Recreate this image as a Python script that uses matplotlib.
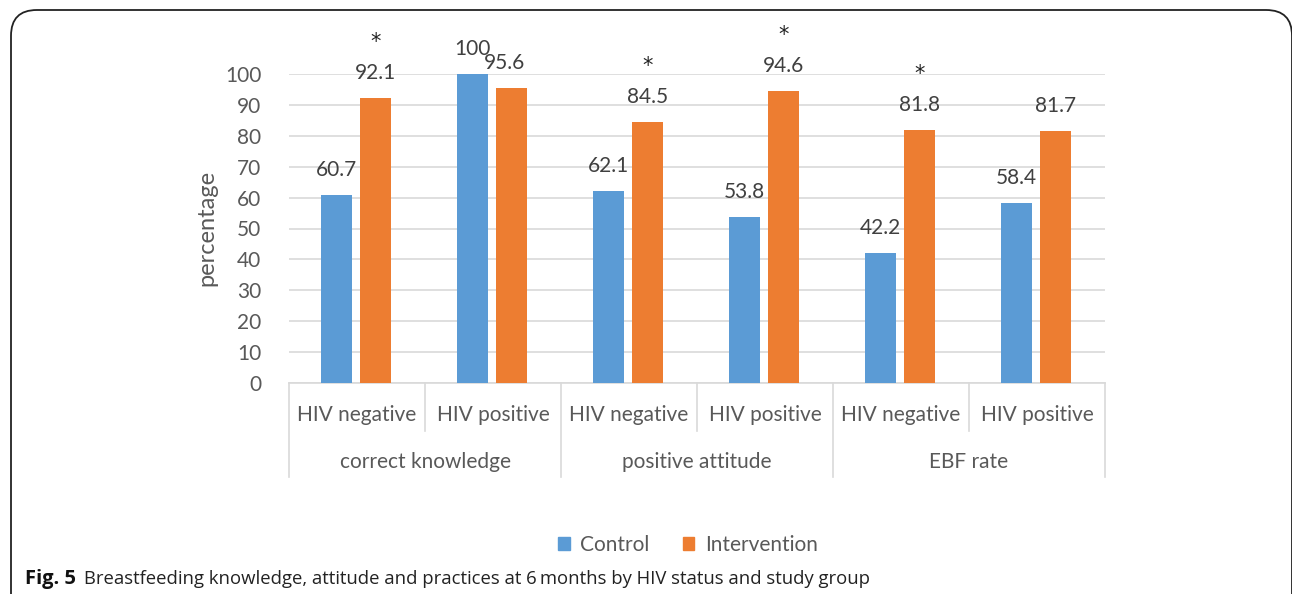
import matplotlib
matplotlib.use("Agg")
import matplotlib.pyplot as plt
from matplotlib.patches import FancyBboxPatch, Patch
import matplotlib.transforms as mtransforms
import numpy as np

subgroups = ["HIV negative", "HIV positive", "HIV negative", "HIV positive", "HIV negative", "HIV positive"]
groups = ["correct knowledge", "positive attitude", "EBF rate"]
control = [60.7, 100, 62.1, 53.8, 42.2, 58.4]
intervention = [92.1, 95.6, 84.5, 94.6, 81.8, 81.7]
control_labels = ["60.7", "100", "62.1", "53.8", "42.2", "58.4"]
intervention_labels = ["92.1", "95.6", "84.5", "94.6", "81.8", "81.7"]
significant = [True, False, True, True, True, False]
yticks = [0, 10, 20, 30, 40, 50, 60, 70, 80, 90, 100]

BLUE = "#5B9BD5"
ORANGE = "#ED7D31"
TXT = "#595959"
GRID = "#D9D9D9"
FONT = ["Lato", "DejaVu Sans"]
CAP = ["Open Sans", "DejaVu Sans"]
plt.rcParams["font.family"] = FONT

W, H = 1292, 594
fig = plt.figure(figsize=(W / 100, H / 100), dpi=100)

def fy(py):
    return (H - py) / H

# rounded frame
frame = FancyBboxPatch((11 / W, -0.1), (1292 - 11) / W, (H - 10) / H + 0.1,
                       boxstyle="round,pad=0,rounding_size=0.02",
                       transform=fig.transFigure, fill=False, ec="#222222", lw=1.3,
                       mutation_aspect=W / H)
fig.patches.append(frame)

L, R, B, T = 289, 1105, 383, 74
ax = fig.add_axes([L / W, (H - B) / H, (R - L) / W, (B - T) / H])
ax.set_xlim(0, 6)
ax.set_ylim(0, 100)

x = np.arange(6)
xc = x + 0.35
xi = x + 0.635
w = 0.225
ax.bar(xc, control, width=w, color=BLUE, zorder=3)
ax.bar(xi, intervention, width=w, color=ORANGE, zorder=3)

ax.set_yticks(yticks)
ax.set_yticklabels([str(v) for v in yticks], fontsize=15, color=TXT)
ax.tick_params(axis="y", length=0, pad=20)
ax.set_xticks([])
ax.grid(axis="y", color=GRID, lw=1.2, zorder=0)
for s in ["top", "right", "left"]:
    ax.spines[s].set_visible(False)
ax.spines["bottom"].set_color(GRID)
ax.spines["bottom"].set_linewidth(1.2)

fig.text(207 / W, fy(228), "percentage", rotation=90, ha="center", va="center",
         fontsize=17, color=TXT)

for i in range(6):
    ax.annotate(control_labels[i], (xc[i], control[i]), xytext=(0, 25), textcoords="offset pixels",
                ha="center", va="center", fontsize=15, color="#404040")
    dx = -7 if i == 1 else 0
    ax.annotate(intervention_labels[i], (xi[i], intervention[i]), xytext=(dx, 25), textcoords="offset pixels",
                ha="center", va="center", fontsize=15, color="#404040")
    if significant[i]:
        ax.annotate("*", (xi[i], intervention[i]), xytext=(0, 56), textcoords="offset pixels",
                    ha="center", va="center", fontsize=15, color="#222222",
                    family=["DejaVu Sans"])

# category axis
trans = mtransforms.blended_transform_factory(ax.transData, fig.transFigure)
for k in range(7):
    bottom = 477 if k % 2 == 0 else 431
    ax.plot([k, k], [fy(B), fy(bottom)], transform=trans, color=GRID, lw=1.2, clip_on=False)
for i in range(6):
    ax.text(i + 0.5, fy(415), subgroups[i], transform=trans, ha="center", va="center",
            fontsize=15, color=TXT)
for g in range(3):
    ax.text(2 * g + 1, fy(462), groups[g], transform=trans, ha="center", va="center",
            fontsize=15, color=TXT)

handles = [Patch(color=BLUE, label="Control"), Patch(color=ORANGE, label="Intervention")]
fig.legend(handles=handles, loc="center", bbox_to_anchor=(688 / W, fy(545)), ncol=2,
           frameon=False, fontsize=15, handlelength=0.55, handleheight=0.55,
           handletextpad=0.5, columnspacing=1.6, labelcolor=TXT)

fig.text(25 / W, fy(579), "Fig. 5", fontsize=14.5, fontweight="bold", family=CAP,
         ha="left", va="center", color="#111111")
fig.text(84 / W, fy(579), "Breastfeeding knowledge, attitude and practices at 6\u2009months by HIV status and study group",
         fontsize=13.3, family=CAP, ha="left", va="center", color="#222222")

fig.savefig("out.png", dpi=100)
